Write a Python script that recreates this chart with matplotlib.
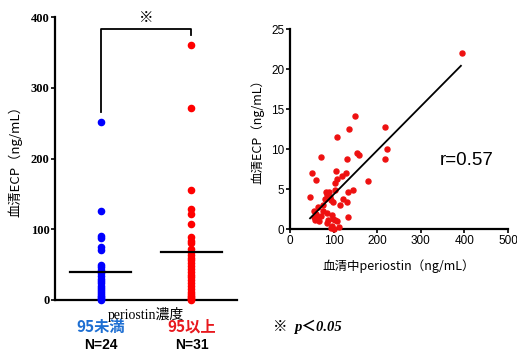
import matplotlib
matplotlib.use("Agg")
import matplotlib.pyplot as plt
import numpy as np

# ---- data ----
group_labels = ["95未満", "95以上"]
group_n = ["N=24", "N=31"]
blue_vals = [251, 126, 91, 88, 75, 70, 50, 46, 42, 38, 34, 30, 27, 24, 20, 17, 14, 11, 8, 6, 4, 2, 1, 0]
red_vals = [360, 272, 156, 128, 122, 107, 89, 84, 80, 72, 68, 64, 60, 56, 52, 48, 44, 40, 36, 32,
            28, 24, 20, 16, 12, 9, 6, 4, 2, 1, 0]
group_centers = [40, 68]
left_yticks = [0, 100, 200, 300, 400]

sc_x = [394, 149, 136, 108, 219, 223, 219, 154, 158, 71, 131, 51, 59, 106, 128, 120, 107, 104, 178,
        46, 145, 132, 104, 82, 90, 85, 91, 80, 93, 98, 122, 130, 115, 65, 76, 54, 59, 55, 61, 57,
        84, 71, 97, 134, 88, 99, 104, 86, 107, 96, 94, 112, 67, 100, 75]
sc_y = [22.0, 14.1, 12.5, 11.5, 12.8, 10.0, 8.75, 9.5, 9.3, 9.0, 8.8, 7.0, 6.1, 7.25, 7.0, 6.6, 6.3,
        5.8, 6.0, 4.0, 4.9, 4.6, 4.9, 4.6, 4.6, 4.2, 4.0, 3.7, 3.6, 3.4, 3.8, 3.4, 3.0, 2.8, 2.3,
        2.2, 1.9, 1.5, 1.3, 1.1, 2.0, 1.6, 1.75, 1.5, 1.1, 1.2, 1.1, 0.8, 1.0, 0.4, 0.1, 0.3, 1.0,
        0.0, 3.0]
fit_x = [46, 392]
fit_y = [1.34, 20.4]
r_text = "r=0.57"
right_xticks = [0, 100, 200, 300, 400, 500]
right_yticks = [0, 5, 10, 15, 20, 25]

CJK = ["Noto Sans CJK JP", "DejaVu Sans"]
SERIF = ["Liberation Serif", "Noto Sans CJK JP"]

W, H = 517, 356
fig = plt.figure(figsize=(W / 100, H / 100), dpi=100)

# ---- left dot plot ----
ax1 = fig.add_axes([55 / W, 1 - 300 / H, 182 / W, 283 / H])
ax1.scatter(np.full(len(blue_vals), 1.0), blue_vals, s=20, color="#0000ff", zorder=3, clip_on=False)
ax1.scatter(np.full(len(red_vals), 2.0), red_vals, s=20, color="#ff0000", zorder=3, clip_on=False)
for i, m in enumerate(group_centers):
    ax1.plot([i + 1 - 0.34, i + 1 + 0.34], [m, m], color="black", lw=1.6, zorder=4)
ax1.set_xlim(0.5, 2.5)
ax1.set_ylim(0, 400)
ax1.set_yticks(left_yticks)
ax1.set_yticklabels([str(v) for v in left_yticks], family=SERIF, fontweight="bold", fontsize=9)
ax1.set_xticks([1, 2])
ax1.set_xticklabels([])
ax1.tick_params(axis="both", length=3, width=1.2, pad=1)
for s in ["top", "right"]:
    ax1.spines[s].set_visible(False)
for s in ["left", "bottom"]:
    ax1.spines[s].set_linewidth(1.6)
ax1.set_ylabel("血清ECP（ng/mL）", family=CJK, fontsize=9.5, labelpad=6)

# significance bracket
ax1.plot([1, 1, 2, 2], [266, 383, 383, 374], color="black", lw=1.3, clip_on=False)
ax1.text(1.5, 398, "※", ha="center", va="center", family=CJK, fontsize=10.5)

tr = ax1.get_xaxis_transform()
ax1.text(1.5, -0.053, "periostin濃度", transform=tr, ha="center", va="center",
         family=SERIF, fontsize=10)
label_colors = ["#1e6fd2", "#e8191e"]
for i, (lab, n) in enumerate(zip(group_labels, group_n)):
    ax1.text(i + 1, -0.095, lab, transform=tr, ha="center", va="center", family=CJK,
             fontweight="bold", fontsize=11, color=label_colors[i])
    ax1.text(i + 1, -0.159, n, transform=tr, ha="center", va="center", family=["Liberation Sans"],
             fontweight="bold", fontsize=10, color="black")

# ---- right scatter ----
ax2 = fig.add_axes([290 / W, 1 - 229 / H, 218 / W, 200 / H])
ax2.scatter(sc_x, sc_y, s=13, color="#ee1111", zorder=3, clip_on=False)
ax2.plot(fit_x, fit_y, color="black", lw=1.3, zorder=4)
ax2.set_xlim(0, 500)
ax2.set_ylim(0, 25)
ax2.set_xticks(right_xticks)
ax2.set_yticks(right_yticks)
for lab in ax2.get_xticklabels() + ax2.get_yticklabels():
    lab.set_family(["Liberation Sans"])
    lab.set_fontsize(8.5)
ax2.tick_params(axis="both", length=3, width=1.2, pad=1)
for s in ["top", "right"]:
    ax2.spines[s].set_visible(False)
for s in ["left", "bottom"]:
    ax2.spines[s].set_linewidth(1.6)
ax2.set_ylabel("血清ECP（ng/mL）", family=CJK, fontsize=9, labelpad=5)
ax2.set_xlabel("血清中periostin（ng/mL）", family=CJK, fontsize=9, labelpad=9)
ax2.text(406, 8.6, r_text, ha="center", va="center", family=["Liberation Sans"], fontsize=13.5)

# footnote
fig.text(273 / W, 1 - 327 / H, "※", family=CJK, fontsize=10.5, ha="left", va="center")
fig.text(294 / W, 1 - 327 / H, "p＜0.05", family=SERIF, style="italic", fontweight="bold",
         fontsize=10.5, ha="left", va="center")

fig.savefig("out.png", dpi=100)
